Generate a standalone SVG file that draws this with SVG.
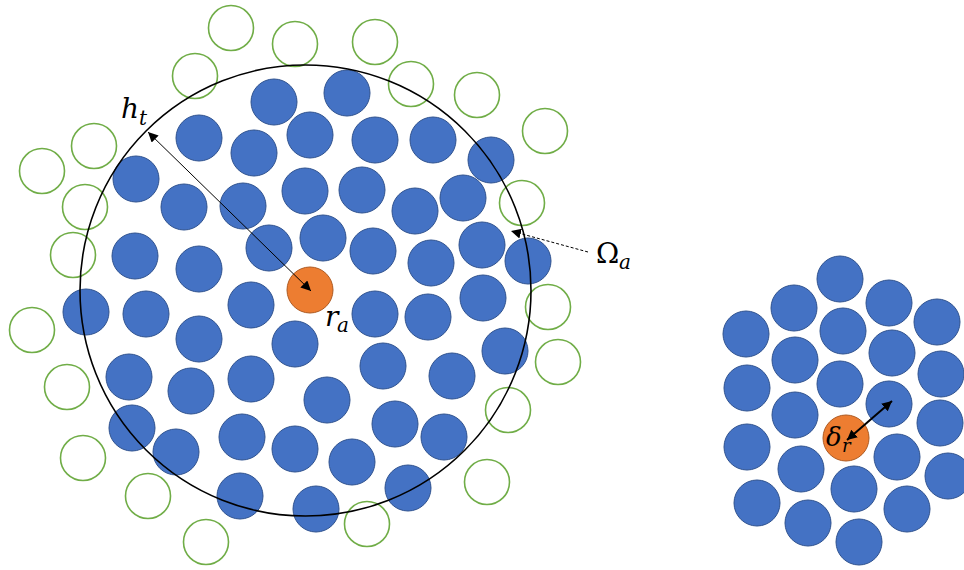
<svg xmlns="http://www.w3.org/2000/svg" width="964" height="570" viewBox="0 0 964 570">
<style>
.b{fill:#4472C4;stroke:#2F528F;stroke-width:1}
.o{fill:#ED7D31;stroke:#AE5A21;stroke-width:1}
.g{fill:none;stroke:#70AD47;stroke-width:1.6}
.m{font-family:"DejaVu Serif","Liberation Serif",serif;font-style:italic;fill:#000}
.u{font-family:"DejaVu Serif","Liberation Serif",serif;font-style:normal;fill:#000}
</style>
<defs>
<marker id="ah" viewBox="0 0 10 10" refX="10" refY="5" markerWidth="10" markerHeight="10" markerUnits="userSpaceOnUse" orient="auto-start-reverse"><path d="M0,0 L10,5 L0,10 z" fill="#000"/></marker>
<marker id="ah2" viewBox="0 0 10 10" refX="10" refY="5" markerWidth="5" markerHeight="5" orient="auto-start-reverse"><path d="M0,0 L10,5 L0,10 z" fill="#000"/></marker>
</defs>
<rect width="964" height="570" fill="#fff"/>
<g id="green">
<circle class="g" cx="231" cy="28" r="22.5"/>
<circle class="g" cx="295" cy="44" r="22.5"/>
<circle class="g" cx="375" cy="42" r="22.5"/>
<circle class="g" cx="195" cy="76" r="22.5"/>
<circle class="g" cx="411" cy="84" r="22.5"/>
<circle class="g" cx="477" cy="95" r="22.5"/>
<circle class="g" cx="545" cy="131" r="22.5"/>
<circle class="g" cx="94" cy="146" r="22.5"/>
<circle class="g" cx="42" cy="171" r="22.5"/>
<circle class="g" cx="85" cy="207" r="22.5"/>
<circle class="g" cx="522" cy="203" r="22.5"/>
<circle class="g" cx="73" cy="255" r="22.5"/>
<circle class="g" cx="32" cy="330" r="22.5"/>
<circle class="g" cx="548" cy="307" r="22.5"/>
<circle class="g" cx="558" cy="362" r="22.5"/>
<circle class="g" cx="67" cy="387" r="22.5"/>
<circle class="g" cx="508" cy="410" r="22.5"/>
<circle class="g" cx="83" cy="458" r="22.5"/>
<circle class="g" cx="487" cy="482" r="22.5"/>
<circle class="g" cx="148" cy="496" r="22.5"/>
<circle class="g" cx="367" cy="524" r="22.5"/>
<circle class="g" cx="206" cy="542" r="22.5"/>
</g>
<g id="left-cluster">
<circle class="b" cx="274" cy="102" r="23"/>
<circle class="b" cx="347" cy="93" r="23"/>
<circle class="b" cx="199" cy="138" r="23"/>
<circle class="b" cx="254" cy="153" r="23"/>
<circle class="b" cx="310" cy="135" r="23"/>
<circle class="b" cx="375" cy="140" r="23"/>
<circle class="b" cx="433" cy="140" r="23"/>
<circle class="b" cx="491" cy="160" r="23"/>
<circle class="b" cx="136" cy="179" r="23"/>
<circle class="b" cx="184" cy="207" r="23"/>
<circle class="b" cx="243" cy="206" r="23"/>
<circle class="b" cx="305" cy="191" r="23"/>
<circle class="b" cx="362" cy="190" r="23"/>
<circle class="b" cx="415" cy="211" r="23"/>
<circle class="b" cx="463" cy="198" r="23"/>
<circle class="b" cx="135" cy="256" r="23"/>
<circle class="b" cx="199" cy="269" r="23"/>
<circle class="b" cx="269" cy="248" r="23"/>
<circle class="b" cx="323" cy="238" r="23"/>
<circle class="b" cx="373" cy="251" r="23"/>
<circle class="b" cx="431" cy="263" r="23"/>
<circle class="b" cx="482" cy="245" r="23"/>
<circle class="b" cx="528" cy="261" r="23"/>
<circle class="b" cx="86" cy="312" r="23"/>
<circle class="b" cx="146" cy="314" r="23"/>
<circle class="b" cx="251" cy="305" r="23"/>
<circle class="b" cx="375" cy="314" r="23"/>
<circle class="b" cx="428" cy="317" r="23"/>
<circle class="b" cx="483" cy="298" r="23"/>
<circle class="b" cx="199" cy="339" r="23"/>
<circle class="b" cx="295" cy="344" r="23"/>
<circle class="b" cx="505" cy="351" r="23"/>
<circle class="b" cx="129" cy="377" r="23"/>
<circle class="b" cx="191" cy="391" r="23"/>
<circle class="b" cx="251" cy="379" r="23"/>
<circle class="b" cx="383" cy="366" r="23"/>
<circle class="b" cx="452" cy="376" r="23"/>
<circle class="b" cx="132" cy="428" r="23"/>
<circle class="b" cx="176" cy="452" r="23"/>
<circle class="b" cx="242" cy="437" r="23"/>
<circle class="b" cx="295" cy="449" r="23"/>
<circle class="b" cx="327" cy="400" r="23"/>
<circle class="b" cx="395" cy="424" r="23"/>
<circle class="b" cx="444" cy="437" r="23"/>
<circle class="b" cx="352" cy="462" r="23"/>
<circle class="b" cx="240" cy="496" r="23"/>
<circle class="b" cx="316" cy="509" r="23"/>
<circle class="b" cx="408" cy="488" r="23"/>
<circle class="o" cx="310" cy="290" r="23"/>
</g>
<g id="boundary">
<circle cx="305.5" cy="290.5" r="225.5" fill="none" stroke="#000" stroke-width="1.6"/>
</g>
<g id="right-cluster">
<circle class="b" cx="840" cy="279" r="23"/>
<circle class="b" cx="794" cy="308" r="23"/>
<circle class="b" cx="889" cy="303" r="23"/>
<circle class="b" cx="937" cy="322" r="23"/>
<circle class="b" cx="746" cy="334" r="23"/>
<circle class="b" cx="843" cy="331" r="23"/>
<circle class="b" cx="795" cy="360" r="23"/>
<circle class="b" cx="892" cy="353" r="23"/>
<circle class="b" cx="941" cy="374" r="23"/>
<circle class="b" cx="747" cy="388" r="23"/>
<circle class="b" cx="840" cy="384" r="23"/>
<circle class="b" cx="889" cy="404" r="23"/>
<circle class="b" cx="795" cy="415" r="23"/>
<circle class="b" cx="940" cy="423" r="23"/>
<circle class="b" cx="747" cy="447" r="23"/>
<circle class="b" cx="897" cy="457" r="23"/>
<circle class="b" cx="801" cy="469" r="23"/>
<circle class="b" cx="948" cy="476" r="23"/>
<circle class="b" cx="854" cy="489" r="23"/>
<circle class="b" cx="757" cy="503" r="23"/>
<circle class="b" cx="907" cy="509" r="23"/>
<circle class="b" cx="808" cy="523" r="23"/>
<circle class="b" cx="859" cy="542" r="23"/>
<circle class="o" cx="846" cy="438" r="23"/>
</g>
<g id="connectors">
<line x1="148" y1="132" x2="311" y2="291" stroke="#000" stroke-width="1" marker-start="url(#ah)" marker-end="url(#ah)"/>
<line x1="588" y1="252" x2="511" y2="231" stroke="#000" stroke-width="1" stroke-dasharray="3,2" marker-end="url(#ah)"/>
<line x1="847" y1="440" x2="892" y2="401" stroke="#000" stroke-width="2" marker-start="url(#ah2)" marker-end="url(#ah2)"/>
</g>
<g id="labels">
<text class="m" x="121" y="118" font-size="28">h</text><text class="m" x="139" y="125" font-size="20">t</text>
<text class="m" x="325" y="326" font-size="28">r</text><text class="m" x="337" y="332" font-size="20">a</text>
<text class="u" x="596" y="263" font-size="28">Ω</text><text class="m" x="619" y="269" font-size="20">a</text>
<text class="m" x="826" y="446" font-size="26">δ</text><text class="m" x="842" y="452" font-size="18">r</text>
</g>
</svg>
